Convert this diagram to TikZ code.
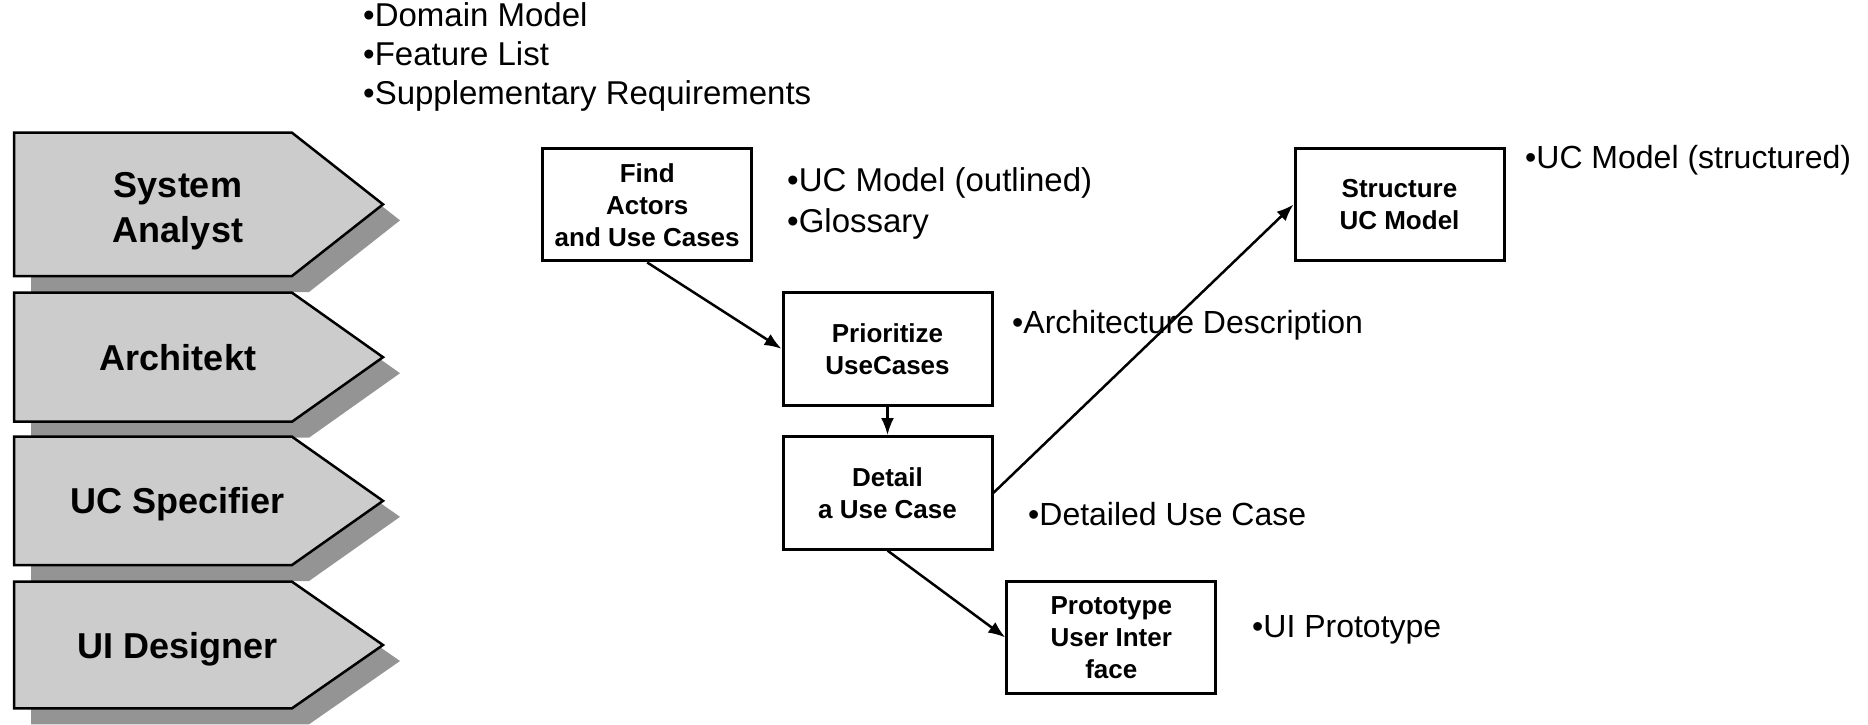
\documentclass[tikz,border=0pt]{standalone}
\usepackage{fontspec}
\setmainfont{Liberation Sans}
\usetikzlibrary{arrows.meta}
\newcommand\rolepent[2]{%
  \fill[roleshadow] (31,#1+16) -- (309,#1+16) -- (400,{(#1+#2)/2+16}) -- (309,#2+16) -- (31,#2+16) -- cycle;
  \draw[rolefill] (14,#1) -- (292,#1) -- (383,{(#1+#2)/2}) -- (292,#2) -- (14,#2) -- cycle;
}
\begin{document}
\begin{tikzpicture}[x=1pt,y=-1pt,
  rolefill/.style={fill=black!20,draw=black,line width=2.5pt,line join=miter},
  roleshadow/.style={fill=black!42},
  roletext/.style={font=\fontsize{36}{45}\selectfont\bfseries,align=center,inner sep=0pt,text depth=0pt},
  actbox/.style={draw=black,line width=3pt,minimum width=209pt,minimum height=112.5pt,inner sep=0pt,align=center,font=\fontsize{26}{32}\selectfont\bfseries},
  arr/.style={line width=2.5pt,-{Latex[length=17pt,width=13pt]}},
  outnote/.style={anchor=base west,inner sep=0pt,font=\fontsize{32}{38}\selectfont},
  bignote/.style={anchor=base west,inner sep=0pt,font=\fontsize{33}{39}\selectfont}]
\useasboundingbox (0,0) rectangle (1868,724);

% roles
\rolepent{132.7}{276}
\node[roletext] (sa) at (178,207) {System\\Analyst};
\rolepent{292.7}{421.7}
\node[roletext] (ar) at (178,357.2) {Architekt};
\rolepent{436.7}{565}
\node[roletext] (ucs) at (178,500.8) {UC Specifier};
\rolepent{581.7}{708.3}
\node[roletext] (uid) at (178,645) {UI Designer};

% input artifacts
\node[bignote] (t1) at (363,26) {•Domain Model};
\node[bignote] (t2) at (363,65) {•Feature List};
\node[bignote] (t3) at (363,104) {•Supplementary Requirements};

% activities
\node[actbox] (find) at (647.2,204.7) {Find\\Actors\\and Use Cases};
\node[actbox] (prio) at (887.5,348.8) {Prioritize\\UseCases};
\node[actbox] (detail) at (887.5,492.8) {Detail\\a Use Case};
\node[actbox] (proto) at (1111.3,637.5) {Prototype\\User Inter\\face};
\node[actbox] (struct) at (1399.5,204.5) {Structure\\UC Model};

% outputs
\node[bignote] (o1) at (787,191) {•UC Model (outlined)};
\node[bignote] (o2) at (787,232) {•Glossary};
\node[outnote] (o3) at (1012,333) {•Architecture Description};
\node[outnote] (o4) at (1028,525) {•Detailed Use Case};
\node[outnote] (o5) at (1252,637) {•UI Prototype};
\node[outnote] (o6) at (1525,168) {•UC Model (structured)};

% flow
\draw[arr] (find.south) -- (prio.west);
\draw[arr] (prio.south) -- (detail.north);
\draw[arr] (detail.east) -- (struct.west);
\draw[arr] (detail.south) -- (proto.west);
\end{tikzpicture}
\end{document}
